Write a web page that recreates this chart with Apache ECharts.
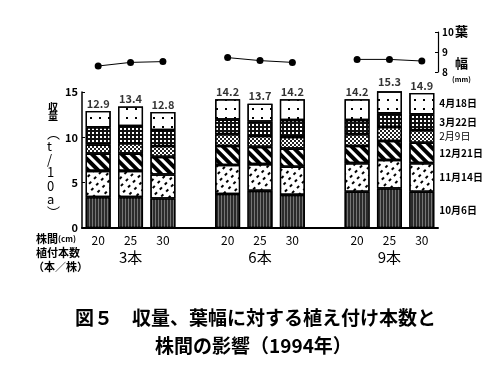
<!DOCTYPE html>
<html><head><meta charset="utf-8">
<script src="https://cdn.jsdelivr.net/npm/echarts@6/dist/echarts.min.js"></script>
<style>html,body{margin:0;padding:0;background:#fff}#c{width:502px;height:372px}</style>
</head><body><div id="c"></div>
<script>
// ---- data ----
const groups = ['3本', '6本', '9本'];
const spacings = ['20', '25', '30'];
const stageNames = ['10月6日', '11月14日', '12月21日', '2月9日', '3月22日', '4月18日'];
const oct6  = [3.4, 3.4, 3.25, 3.75, 4.1, 3.65, 4.0, 4.35, 4.0];
const nov14 = [2.9, 2.9, 2.65, 3.2, 2.95, 3.1, 3.15, 3.15, 3.15];
const dec21 = [1.9, 1.9, 1.95, 2.1, 1.9, 2.0, 1.9, 2.1, 2.25];
const feb9  = [1.0, 1.15, 1.2, 1.3, 1.2, 1.3, 1.3, 1.55, 1.4];
const mar22 = [1.9, 1.9, 1.75, 1.6, 1.6, 1.85, 1.55, 1.5, 1.75];
const apr18 = [1.8, 2.15, 2.0, 2.25, 1.95, 2.3, 2.3, 2.65, 2.35];
const totals = [12.9, 13.4, 12.8, 14.2, 13.7, 14.2, 14.2, 15.3, 14.9];
const leafWidth = [8.3, 8.48, 8.52, 8.72, 8.57, 8.48, 8.63, 8.63, 8.55];
const yTicks = [0, 5, 10, 15];
const leafTicks = [8, 9, 10];

// ---- build category slots (with an empty slot between groups) ----
const categories = [];
groups.forEach((g, gi) => {
  spacings.forEach(s => categories.push(g + '|' + s));
  if (gi < groups.length - 1) categories.push('gap' + gi);
});
function expand(arr) {
  const out = []; let k = 0;
  categories.forEach(c => { out.push(c.startsWith('gap') ? null : arr[k++]); });
  return out;
}
const stageData = [oct6, nov14, dec21, feb9, mar22, apr18];

const FONT = '"Noto Sans CJK JP", "Noto Sans", sans-serif';
const styles = [
  { color: '#2b2b2b', decal: { symbol: 'rect', color: 'rgba(255,255,255,0.35)', dashArrayX: [1, 0], dashArrayY: [1, 2], rotation: Math.PI / 2 } },
  { color: '#fff', decal: { symbol: 'rect', color: '#000', dashArrayX: [[2.5, 4], [0, 3, 2.5, 1]], dashArrayY: [1.2, 3.5], rotation: -Math.PI / 4 } },
  { color: '#fff', decal: { symbol: 'rect', color: '#000', dashArrayX: [1, 0], dashArrayY: [3.5, 3], rotation: Math.PI / 4 } },
  { color: '#fff', decal: { symbol: 'rect', color: '#222', dashArrayX: [[1.5, 1.5], [0, 1.5, 1.5, 0]], dashArrayY: [1.5, 0] } },
  { color: '#111', decal: { symbol: 'rect', color: '#fff', dashArrayX: [1.3, 2], dashArrayY: [1.3, 2] } },
  { color: '#fff', decal: { symbol: 'rect', color: '#000', dashArrayX: [1.5, 7], dashArrayY: [1.5, 7] } }
];

const barSeries = stageNames.map((name, i) => {
  const vals = expand(stageData[i]);
  const data = vals.map((v, idx) => {
    if (idx === vals.length - 1) {
      return { value: v, label: { show: true, position: 'right', distance: 5, formatter: name,
        fontFamily: FONT, fontSize: 10, fontWeight: name === '2月9日' ? 'normal' : 'bold', color: '#000' } };
    }
    return v;
  });
  return {
    name, type: 'bar', stack: 'yield', xAxisIndex: 0, yAxisIndex: 0,
    barWidth: 25, data,
    itemStyle: { color: styles[i].color, decal: styles[i].decal, borderColor: '#000', borderWidth: 1.3 },
    emphasis: { disabled: true }, animation: false
  };
});

const option = {
  animation: false,
  grid: [
    { left: 82, right: 64, top: 92, bottom: 144 },
    { left: 82, right: 64, top: 32, height: 40 }
  ],
  xAxis: [
    { type: 'category', gridIndex: 0, data: categories, boundaryGap: true,
      axisLine: { lineStyle: { color: '#000', width: 2 } }, axisTick: { show: false },
      axisLabel: { interval: 0, margin: 5, color: '#000', fontFamily: FONT,
        formatter: (v) => {
          if (v.startsWith('gap')) return '';
          const [g, s] = v.split('|');
          return s === spacings[1] ? '{a|' + s + '}\n{b|' + g + '}' : '{a|' + s + '}';
        },
        rich: { a: { fontSize: 12, lineHeight: 14, fontFamily: FONT, color: '#000' },
                b: { fontSize: 15, lineHeight: 20, fontFamily: FONT, color: '#000' } } } },
    { type: 'category', gridIndex: 1, data: categories, boundaryGap: true, show: false }
  ],
  yAxis: [
    { type: 'value', gridIndex: 0, min: yTicks[0], max: yTicks[yTicks.length - 1], interval: 5,
      axisLine: { show: true, lineStyle: { color: '#000', width: 1.5 } },
      axisTick: { show: true, inside: true, length: 3, lineStyle: { color: '#000' } },
      splitLine: { show: false },
      axisLabel: { margin: 4, color: '#000', fontSize: 11, fontWeight: 'bold', fontFamily: FONT } },
    { type: 'value', gridIndex: 1, position: 'right', min: leafTicks[0], max: leafTicks[leafTicks.length - 1], interval: 1,
      axisLine: { show: true, lineStyle: { color: '#000', width: 1.2 } },
      axisTick: { show: true, inside: true, length: 3, lineStyle: { color: '#000' } },
      splitLine: { show: false },
      axisLabel: { margin: 4, color: '#000', fontSize: 10, fontWeight: 'bold', fontFamily: FONT } }
  ],
  series: [
    ...barSeries,
    { type: 'scatter', xAxisIndex: 0, yAxisIndex: 0, data: expand(totals), symbolSize: 0, clip: false,
      label: { show: true, position: 'top', distance: 2, formatter: p => p.value.toFixed(1),
        fontFamily: FONT, fontSize: 11, fontWeight: 'bold', color: '#000' }, silent: true },
    { type: 'line', xAxisIndex: 1, yAxisIndex: 1, data: expand(leafWidth), connectNulls: false,
      symbol: 'circle', symbolSize: 7, itemStyle: { color: '#000' }, lineStyle: { color: '#000', width: 1 } }
  ],
  graphic: [
    { type: 'text', left: 48, top: 102, style: { text: '収\n量', font: 'bold 10px ' + FONT, lineHeight: 9, fill: '#000', align: 'center' } },
    { type: 'text', left: 47, top: 126, style: { text: '︵\nt\n/\n1\n0\na\n︶', font: '13px ' + FONT, lineHeight: 13.3, fill: '#000', align: 'center' } },
    { type: 'text', left: 455, top: 25, style: { text: '葉', font: 'bold 13px ' + FONT, fill: '#000' } },
    { type: 'text', left: 455, top: 57, style: { text: '幅', font: 'bold 13px ' + FONT, fill: '#000' } },
    { type: 'text', left: 452, top: 76, style: { text: '(mm)', font: 'bold 7px ' + FONT, fill: '#000' } },
    { type: 'text', left: 36, top: 233, style: { text: '{a|株間}{b|(cm)}', rich: { a: { font: 'bold 11px ' + FONT, fill: '#000' }, b: { font: 'bold 8px ' + FONT, fill: '#000' } } } },
    { type: 'text', left: 36, top: 247, style: { text: '植付本数', font: 'bold 11px ' + FONT, fill: '#000' } },
    { type: 'text', left: 33, top: 261, style: { text: '（本／株）', font: 'bold 11px ' + FONT, fill: '#000' } },
    { type: 'text', left: 75, top: 308, style: { text: '図５　収量、葉幅に対する植え付け本数と', font: 'bold 19px ' + FONT, fill: '#000' } },
    { type: 'text', left: 155, top: 336, style: { text: '株間の影響（1994年）', font: 'bold 19px ' + FONT, fill: '#000' } }
  ]
};
const chart = echarts.init(document.getElementById('c'));
chart.setOption(option);
</script></body></html>
